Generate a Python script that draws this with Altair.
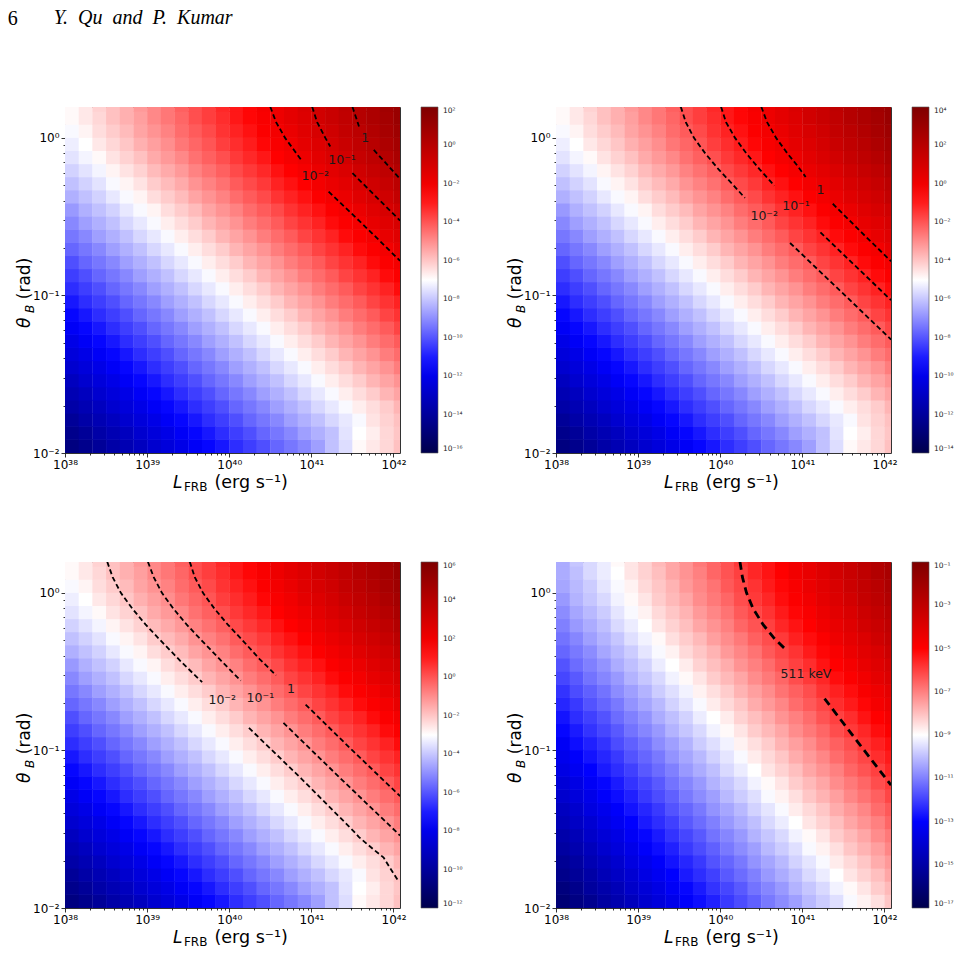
import altair as alt
import pandas as pd

# ---------------- header text ----------------
PAGE_NUMBER = "6"
RUNNING_HEAD = "Y.\u2002Qu\u2002and\u2002P.\u2002Kumar"

# ---------------- heat-map cells (log10 edges) ----------------
LOG_L_EDGES = [38.0, 38.1667, 38.3333, 38.5, 38.6667, 38.8333, 39.0, 39.1667, 39.3333,
               39.5, 39.6667, 39.8333, 40.0, 40.1667, 40.3333, 40.5, 40.6667, 40.8333,
               41.0, 41.1667, 41.3333, 41.5, 41.6667, 41.8333, 42.0, 42.1667]
LOG_THETA_EDGES = [-2.0, -1.9167, -1.8333, -1.75, -1.6667, -1.5833, -1.5, -1.4167, -1.3333,
                   -1.25, -1.1667, -1.0833, -1.0, -0.9167, -0.8333, -0.75, -0.6667, -0.5833,
                   -0.5, -0.4167, -0.3333, -0.25, -0.1667, -0.0833, 0.0, 0.0833, 0.1667, 0.25]

# log10 of the plotted quantity, panels 1-3 (panel 1 units), rows from theta=0.01 upward
F_GRID = [
    [-14.7,-14.4,-14.1,-13.7,-13.4,-13.1,-12.7,-12.4,-12.1,-11.7,-11.4,-11.1,-10.7,-10.4,-10.1,-9.7,-9.4,-9.1,-8.7,-8.1,-7.6,-6.9,-6.6,-6.3,-5.9],
    [-14.4,-14.1,-13.7,-13.4,-13.1,-12.7,-12.4,-12.1,-11.7,-11.4,-11.1,-10.7,-10.4,-10.1,-9.7,-9.4,-9.1,-8.7,-8.4,-8.1,-7.5,-7.0,-6.7,-6.3,-6.0],
    [-14.1,-13.7,-13.4,-13.1,-12.7,-12.4,-12.1,-11.7,-11.4,-11.1,-10.7,-10.4,-10.1,-9.7,-9.4,-9.1,-8.7,-8.4,-8.1,-7.7,-7.4,-7.1,-6.5,-6.2,-5.9],
    [-13.7,-13.4,-13.1,-12.7,-12.4,-12.1,-11.7,-11.4,-11.1,-10.7,-10.4,-10.1,-9.7,-9.4,-9.1,-8.7,-8.4,-8.1,-7.7,-7.4,-7.1,-6.7,-6.4,-6.1,-5.7],
    [-13.4,-13.1,-12.7,-12.4,-12.1,-11.7,-11.4,-11.1,-10.7,-10.4,-10.1,-9.7,-9.4,-9.1,-8.7,-8.4,-8.1,-7.7,-7.4,-7.1,-6.7,-6.4,-6.1,-5.7,-5.4],
    [-13.1,-12.7,-12.4,-12.1,-11.7,-11.4,-11.1,-10.7,-10.4,-10.1,-9.7,-9.4,-9.1,-8.7,-8.4,-8.1,-7.7,-7.4,-7.1,-6.7,-6.4,-6.1,-5.7,-5.4,-5.1],
    [-12.7,-12.4,-12.1,-11.7,-11.4,-11.1,-10.7,-10.4,-10.1,-9.7,-9.4,-9.1,-8.7,-8.4,-8.1,-7.7,-7.4,-7.1,-6.7,-6.4,-6.1,-5.7,-5.4,-5.1,-4.7],
    [-12.4,-12.1,-11.7,-11.4,-11.1,-10.7,-10.4,-10.1,-9.7,-9.4,-9.1,-8.7,-8.4,-8.1,-7.7,-7.4,-7.1,-6.7,-6.4,-6.1,-5.7,-5.4,-5.1,-4.7,-4.4],
    [-12.1,-11.7,-11.4,-11.1,-10.7,-10.4,-10.1,-9.7,-9.4,-9.1,-8.7,-8.4,-8.1,-7.7,-7.4,-7.1,-6.7,-6.4,-6.1,-5.7,-5.4,-5.1,-4.7,-4.4,-4.1],
    [-11.7,-11.4,-11.1,-10.7,-10.4,-10.1,-9.7,-9.4,-9.1,-8.7,-8.4,-8.1,-7.7,-7.4,-7.1,-6.7,-6.4,-6.1,-5.7,-5.4,-5.1,-4.7,-4.4,-4.1,-3.7],
    [-11.4,-11.1,-10.7,-10.4,-10.1,-9.7,-9.4,-9.1,-8.7,-8.4,-8.1,-7.7,-7.4,-7.1,-6.7,-6.4,-6.1,-5.7,-5.4,-5.1,-4.7,-4.4,-4.1,-3.7,-3.4],
    [-11.1,-10.7,-10.4,-10.1,-9.7,-9.4,-9.1,-8.7,-8.4,-8.1,-7.7,-7.4,-7.1,-6.7,-6.4,-6.1,-5.7,-5.4,-5.1,-4.7,-4.4,-4.1,-3.7,-3.4,-3.1],
    [-10.7,-10.4,-10.1,-9.7,-9.4,-9.1,-8.7,-8.4,-8.1,-7.7,-7.4,-7.1,-6.7,-6.4,-6.1,-5.7,-5.4,-5.1,-4.7,-4.4,-4.1,-3.7,-3.4,-3.1,-2.7],
    [-10.4,-10.1,-9.7,-9.4,-9.1,-8.7,-8.4,-8.1,-7.7,-7.4,-7.1,-6.7,-6.4,-6.1,-5.7,-5.4,-5.1,-4.7,-4.4,-4.1,-3.7,-3.4,-3.1,-2.7,-2.4],
    [-10.1,-9.7,-9.4,-9.1,-8.7,-8.4,-8.1,-7.7,-7.4,-7.1,-6.7,-6.4,-6.1,-5.7,-5.4,-5.1,-4.7,-4.4,-4.1,-3.7,-3.4,-3.1,-2.7,-2.4,-2.1],
    [-9.7,-9.4,-9.1,-8.7,-8.4,-8.1,-7.7,-7.4,-7.1,-6.7,-6.4,-6.1,-5.7,-5.4,-5.1,-4.7,-4.4,-4.1,-3.7,-3.4,-3.1,-2.7,-2.4,-2.1,-1.7],
    [-9.4,-9.1,-8.7,-8.4,-8.1,-7.7,-7.4,-7.1,-6.7,-6.4,-6.1,-5.7,-5.4,-5.1,-4.7,-4.4,-4.1,-3.7,-3.4,-3.1,-2.7,-2.4,-2.1,-1.7,-1.4],
    [-9.1,-8.7,-8.4,-8.1,-7.7,-7.4,-7.1,-6.7,-6.4,-6.1,-5.7,-5.4,-5.1,-4.7,-4.4,-4.1,-3.7,-3.4,-3.1,-2.7,-2.4,-2.1,-1.7,-1.4,-1.1],
    [-8.8,-8.4,-8.1,-7.8,-7.4,-7.1,-6.8,-6.4,-6.1,-5.8,-5.4,-5.1,-4.8,-4.4,-4.1,-3.8,-3.4,-3.1,-2.8,-2.4,-2.1,-1.8,-1.4,-1.1,-0.8],
    [-8.4,-8.1,-7.8,-7.4,-7.1,-6.8,-6.4,-6.1,-5.8,-5.4,-5.1,-4.8,-4.4,-4.1,-3.8,-3.4,-3.1,-2.8,-2.4,-2.1,-1.8,-1.4,-1.1,-0.8,-0.4],
    [-8.1,-7.8,-7.5,-7.1,-6.8,-6.5,-6.1,-5.8,-5.5,-5.1,-4.8,-4.5,-4.1,-3.8,-3.5,-3.1,-2.8,-2.5,-2.1,-1.8,-1.5,-1.1,-0.8,-0.5,-0.1],
    [-7.8,-7.5,-7.2,-6.8,-6.5,-6.2,-5.8,-5.5,-5.2,-4.8,-4.5,-4.2,-3.8,-3.5,-3.2,-2.8,-2.5,-2.2,-1.8,-1.5,-1.2,-0.8,-0.5,-0.2,0.2],
    [-7.5,-7.2,-6.9,-6.5,-6.2,-5.9,-5.5,-5.2,-4.9,-4.5,-4.2,-3.9,-3.5,-3.2,-2.9,-2.5,-2.2,-1.9,-1.5,-1.2,-0.9,-0.5,-0.2,0.1,0.5],
    [-7.3,-7.0,-6.6,-6.3,-6.0,-5.6,-5.3,-5.0,-4.6,-4.3,-4.0,-3.6,-3.3,-3.0,-2.6,-2.3,-2.0,-1.6,-1.3,-1.0,-0.6,-0.3,0.0,0.4,0.7],
    [-7.1,-6.8,-6.4,-6.1,-5.8,-5.4,-5.1,-4.8,-4.4,-4.1,-3.8,-3.4,-3.1,-2.8,-2.4,-2.1,-1.8,-1.4,-1.1,-0.8,-0.4,-0.1,0.2,0.6,0.9],
    [-6.9,-6.6,-6.3,-5.9,-5.6,-5.3,-4.9,-4.6,-4.3,-3.9,-3.6,-3.3,-2.9,-2.6,-2.3,-1.9,-1.6,-1.3,-0.9,-0.6,-0.3,0.1,0.4,0.7,1.1],
    [-6.9,-6.6,-6.2,-5.9,-5.6,-5.2,-4.9,-4.6,-4.2,-3.9,-3.6,-3.2,-2.9,-2.6,-2.2,-1.9,-1.6,-1.2,-0.9,-0.6,-0.2,0.1,0.4,0.8,1.1],
]

# log10 of the plotted quantity, panel 4
G_GRID = [
    [-16.1,-15.8,-15.5,-15.1,-14.8,-14.5,-14.1,-13.8,-13.5,-13.1,-12.8,-12.5,-12.1,-11.8,-11.5,-11.1,-10.8,-10.5,-10.1,-9.8,-9.5,-9.1,-8.8,-8.5,-8.1],
    [-15.9,-15.6,-15.2,-14.9,-14.6,-14.2,-13.9,-13.6,-13.2,-12.9,-12.6,-12.2,-11.9,-11.6,-11.2,-10.9,-10.6,-10.2,-9.9,-9.6,-9.2,-8.9,-8.6,-8.2,-7.9],
    [-15.6,-15.3,-15.0,-14.6,-14.3,-14.0,-13.6,-13.3,-13.0,-12.6,-12.3,-12.0,-11.6,-11.3,-11.0,-10.6,-10.3,-10.0,-9.6,-9.3,-9.0,-8.6,-8.3,-8.0,-7.6],
    [-15.4,-15.1,-14.7,-14.4,-14.1,-13.7,-13.4,-13.1,-12.7,-12.4,-12.1,-11.7,-11.4,-11.1,-10.7,-10.4,-10.1,-9.7,-9.4,-9.1,-8.7,-8.4,-8.1,-7.7,-7.4],
    [-15.1,-14.8,-14.5,-14.1,-13.8,-13.5,-13.1,-12.8,-12.5,-12.1,-11.8,-11.5,-11.1,-10.8,-10.5,-10.1,-9.8,-9.5,-9.1,-8.8,-8.5,-8.1,-7.8,-7.5,-7.1],
    [-14.9,-14.6,-14.2,-13.9,-13.6,-13.2,-12.9,-12.6,-12.2,-11.9,-11.6,-11.2,-10.9,-10.6,-10.2,-9.9,-9.6,-9.2,-8.9,-8.6,-8.2,-7.9,-7.6,-7.2,-6.9],
    [-14.6,-14.3,-14.0,-13.6,-13.3,-13.0,-12.6,-12.3,-12.0,-11.6,-11.3,-11.0,-10.6,-10.3,-10.0,-9.6,-9.3,-9.0,-8.6,-8.3,-8.0,-7.6,-7.3,-7.0,-6.6],
    [-14.4,-14.1,-13.7,-13.4,-13.1,-12.7,-12.4,-12.1,-11.7,-11.4,-11.1,-10.7,-10.4,-10.1,-9.7,-9.4,-9.1,-8.7,-8.4,-8.1,-7.7,-7.4,-7.1,-6.7,-6.4],
    [-14.1,-13.8,-13.5,-13.1,-12.8,-12.5,-12.1,-11.8,-11.5,-11.1,-10.8,-10.5,-10.1,-9.8,-9.5,-9.1,-8.8,-8.5,-8.1,-7.8,-7.5,-7.1,-6.8,-6.5,-6.1],
    [-13.9,-13.6,-13.2,-12.9,-12.6,-12.2,-11.9,-11.6,-11.2,-10.9,-10.6,-10.2,-9.9,-9.6,-9.2,-8.9,-8.6,-8.2,-7.9,-7.6,-7.2,-6.9,-6.6,-6.2,-5.9],
    [-13.6,-13.3,-13.0,-12.6,-12.3,-12.0,-11.6,-11.3,-11.0,-10.6,-10.3,-10.0,-9.6,-9.3,-9.0,-8.6,-8.3,-8.0,-7.6,-7.3,-7.0,-6.6,-6.3,-6.0,-5.6],
    [-13.4,-13.1,-12.7,-12.4,-12.1,-11.7,-11.4,-11.1,-10.7,-10.4,-10.1,-9.7,-9.4,-9.1,-8.7,-8.4,-8.1,-7.7,-7.4,-7.1,-6.7,-6.4,-6.1,-5.7,-5.4],
    [-13.2,-12.8,-12.5,-12.2,-11.8,-11.5,-11.2,-10.8,-10.5,-10.2,-9.8,-9.5,-9.2,-8.8,-8.5,-8.2,-7.8,-7.5,-7.2,-6.8,-6.5,-6.2,-5.8,-5.5,-5.2],
    [-12.9,-12.6,-12.2,-11.9,-11.6,-11.2,-10.9,-10.6,-10.2,-9.9,-9.6,-9.2,-8.9,-8.6,-8.2,-7.9,-7.6,-7.2,-6.9,-6.6,-6.2,-5.9,-5.6,-5.2,-4.9],
    [-12.7,-12.3,-12.0,-11.7,-11.3,-11.0,-10.7,-10.3,-10.0,-9.7,-9.3,-9.0,-8.7,-8.3,-8.0,-7.7,-7.3,-7.0,-6.7,-6.3,-6.0,-5.7,-5.3,-5.0,-4.7],
    [-12.4,-12.1,-11.7,-11.4,-11.1,-10.7,-10.4,-10.1,-9.7,-9.4,-9.1,-8.7,-8.4,-8.1,-7.7,-7.4,-7.1,-6.7,-6.4,-6.1,-5.7,-5.4,-5.1,-4.7,-4.4],
    [-12.2,-11.8,-11.5,-11.2,-10.8,-10.5,-10.2,-9.8,-9.5,-9.2,-8.8,-8.5,-8.2,-7.8,-7.5,-7.2,-6.8,-6.5,-6.2,-5.8,-5.5,-5.2,-4.8,-4.5,-4.2],
    [-11.9,-11.6,-11.2,-10.9,-10.6,-10.2,-9.9,-9.6,-9.2,-8.9,-8.6,-8.2,-7.9,-7.6,-7.2,-6.9,-6.6,-6.2,-5.9,-5.6,-5.2,-4.9,-4.6,-4.2,-3.9],
    [-11.7,-11.3,-11.0,-10.7,-10.3,-10.0,-9.7,-9.3,-9.0,-8.7,-8.3,-8.0,-7.7,-7.3,-7.0,-6.7,-6.3,-6.0,-5.7,-5.3,-5.0,-4.7,-4.3,-4.0,-3.7],
    [-11.4,-11.1,-10.8,-10.4,-10.1,-9.8,-9.4,-9.1,-8.8,-8.4,-8.1,-7.8,-7.4,-7.1,-6.8,-6.4,-6.1,-5.8,-5.4,-5.1,-4.8,-4.4,-4.1,-3.8,-3.4],
    [-11.2,-10.9,-10.5,-10.2,-9.9,-9.5,-9.2,-8.9,-8.5,-8.2,-7.9,-7.5,-7.2,-6.9,-6.5,-6.2,-5.9,-5.5,-5.2,-4.9,-4.5,-4.2,-3.9,-3.5,-3.2],
    [-11.0,-10.6,-10.3,-10.0,-9.6,-9.3,-9.0,-8.6,-8.3,-8.0,-7.6,-7.3,-7.0,-6.6,-6.3,-6.0,-5.6,-5.3,-5.0,-4.6,-4.3,-4.0,-3.6,-3.3,-3.0],
    [-10.8,-10.4,-10.1,-9.8,-9.4,-9.1,-8.8,-8.4,-8.1,-7.8,-7.4,-7.1,-6.8,-6.4,-6.1,-5.8,-5.4,-5.1,-4.8,-4.4,-4.1,-3.8,-3.4,-3.1,-2.8],
    [-10.6,-10.2,-9.9,-9.6,-9.2,-8.9,-8.6,-8.2,-7.9,-7.6,-7.2,-6.9,-6.6,-6.2,-5.9,-5.6,-5.2,-4.9,-4.6,-4.2,-3.9,-3.6,-3.2,-2.9,-2.6],
    [-10.4,-10.1,-9.8,-9.4,-9.1,-8.8,-8.4,-8.1,-7.8,-7.4,-7.1,-6.8,-6.4,-6.1,-5.8,-5.4,-5.1,-4.8,-4.4,-4.1,-3.8,-3.4,-3.1,-2.8,-2.4],
    [-10.3,-10.0,-9.6,-9.3,-9.0,-8.6,-8.3,-8.0,-7.6,-7.3,-7.0,-6.6,-6.3,-6.0,-5.6,-5.3,-5.0,-4.6,-4.3,-4.0,-3.6,-3.3,-3.0,-2.6,-2.3],
    [-10.3,-9.9,-9.6,-9.3,-8.9,-8.6,-8.3,-7.9,-7.6,-7.3,-6.9,-6.6,-6.3,-5.9,-5.6,-5.3,-4.9,-4.6,-4.3,-3.9,-3.6,-3.3,-2.9,-2.6,-2.3],
]

PANEL_GRID = ["F", "F", "F", "G"]
PANEL_OFFSET = [0, 2, 4, 0]          # decades added to F for panels 2 and 3
CBAR_RANGE = [(-16, 2), (-14, 4), (-12, 6), (-17, -1)]
CBAR_TICKS = [
    [2, 0, -2, -4, -6, -8, -10, -12, -14, -16],
    [4, 2, 0, -2, -4, -6, -8, -10, -12, -14],
    [6, 4, 2, 0, -2, -4, -6, -8, -10, -12],
    [-1, -3, -5, -7, -9, -11, -13, -15, -17],
]

# ---------------- dashed contour segments: (log10 L, log10 theta) ----------------
CONTOURS = [
    [
        [(40.50, 0.197), (40.57, 0.10), (40.68, 0.0), (40.82, -0.10), (40.89, -0.15)],
        [(41.21, -0.341), (41.63, -0.55), (42.08, -0.78)],
        [(41.01, 0.197), (41.07, 0.10), (41.17, 0.0), (41.23, -0.055)],
        [(41.50, -0.224), (42.08, -0.525)],
        [(41.50, 0.197), (41.55, 0.12), (41.58, 0.072)],
        [(41.76, -0.076), (42.08, -0.26)],
    ],
    [
        [(40.50, 0.197), (40.57, 0.10), (40.68, 0.0), (40.82, -0.10), (40.93, -0.17), (41.04, -0.248)],
        [(41.37, -0.418), (41.72, -0.60), (42.08, -0.783)],
        [(40.01, 0.197), (40.07, 0.10), (40.18, 0.0), (40.32, -0.10), (40.48, -0.20), (40.66, -0.303)],
        [(41.22, -0.60), (42.08, -1.03)],
        [(39.52, 0.197), (39.58, 0.10), (39.68, 0.0), (39.82, -0.10), (39.98, -0.20), (40.16, -0.30), (40.30, -0.381)],
        [(40.85, -0.667), (41.46, -0.97), (42.08, -1.28)],
    ],
    [
        [(39.52, 0.197), (39.58, 0.10), (39.68, 0.0), (39.82, -0.10), (39.98, -0.20), (40.16, -0.30), (40.37, -0.42), (40.57, -0.523)],
        [(40.93, -0.709), (41.50, -1.0), (42.08, -1.29)],
        [(39.01, 0.197), (39.08, 0.10), (39.18, 0.0), (39.32, -0.10), (39.48, -0.20), (39.66, -0.30), (39.90, -0.43), (40.14, -0.557)],
        [(40.66, -0.825), (41.36, -1.18), (42.08, -1.54)],
        [(38.515, 0.197), (38.58, 0.10), (38.68, 0.0), (38.82, -0.10), (38.98, -0.20), (39.16, -0.30), (39.42, -0.44), (39.67, -0.567)],
        [(40.24, -0.857), (40.88, -1.18), (41.51, -1.51), (41.58, -1.55), (41.76, -1.63), (41.88, -1.68), (41.95, -1.74), (42.06, -1.83)],
    ],
    [
        [(40.24, 0.197), (40.27, 0.10), (40.32, 0.0), (40.40, -0.10), (40.52, -0.20), (40.66, -0.29), (40.82, -0.371)],
        [(41.27, -0.671), (41.68, -0.95), (42.08, -1.22)],
    ],
]
CONTOUR_LABELS = [
    [("1", 41.656, 0.0), ("10⁻¹", 41.373, -0.138), ("10⁻²", 41.048, -0.239)],
    [("1", 41.219, -0.328), ("10⁻¹", 40.922, -0.434), ("10⁻²", 40.535, -0.498)],
    [("1", 40.753, -0.608), ("10⁻¹", 40.379, -0.667), ("10⁻²", 39.914, -0.682)],
    [("511 keV", 41.044, -0.512)],
]

X_MIN, X_MAX = 1e38, 1.2e42
Y_MIN, Y_MAX = 0.01, 1.5708

# ---------------- styling ----------------
FONT = "DejaVu Sans"
SERIF = "Liberation Serif"
SEISMIC = ["#00004c", "#0000ff", "#ffffff", "#ff0000", "#7f0000"]
PW, PH = 335, 346
SEAM = 0.004   # tiny overlap (in decades) so neighbouring cells leave no hairline gaps

SUP = {"0": "⁰", "1": "¹", "2": "²", "3": "³", "4": "⁴", "5": "⁵",
       "6": "⁶", "7": "⁷", "8": "⁸", "9": "⁹", "-": "⁻"}


def sup(n):
    return "".join(SUP[c] for c in str(n))


LOG10 = "(log(datum.value) / LN10)"
IS_MAJOR = f"abs({LOG10} - round({LOG10})) < 0.001"


def log_label_expr(exps):
    s = "''"
    for n in exps:
        s = f"round({LOG10}) == {n} ? '10{sup(n)}' : ({s})"
    return f"{IS_MAJOR} ? ({s}) : ''"


def cbar_label_expr(exps):
    s = "''"
    for n in exps:
        s = f"datum.value == {n} ? '10{sup(n)}' : ({s})"
    return s


X_TICKS = [m * 10.0 ** e for e in range(38, 43) for m in range(1, 10) if m * 10.0 ** e <= X_MAX]
Y_TICKS = [m * 10.0 ** e for e in (-2, -1, 0) for m in range(1, 10) if m * 10.0 ** e <= Y_MAX]
TICK_SIZE = {"condition": {"test": IS_MAJOR, "value": 4}, "value": 2}


def main_axis(orient):
    common = dict(orient=orient, labelFlush=False, labelOverlap=False, tickSize=TICK_SIZE,
                  tickWidth=0.8, tickColor="black", domain=False, grid=False,
                  labelFont=FONT, labelFontSize=12, labelColor="black", labelPadding=2,
                  titleFont=FONT, titleFontSize=17, titleFontStyle="italic",
                  titleFontWeight="normal", titleColor="black", titleAlign="left",
                  titleBaseline="alphabetic")
    if orient == "bottom":
        return alt.Axis(values=X_TICKS, labelExpr=log_label_expr([38, 39, 40, 41, 42]),
                        title="L", titleX=107.4, titleY=34.4, **common)
    return alt.Axis(values=Y_TICKS, labelExpr=log_label_expr([-2, -1, 0]),
                    title="θ", titleAngle=270, titleX=-36, titleY=220.5, **common)


def title_axis(orient, text, size, style, tx, ty):
    kw = dict(orient=orient, labels=False, ticks=False, domain=False, grid=False,
              title=text, titleFont=FONT, titleFontSize=size, titleFontStyle=style,
              titleFontWeight="normal", titleColor="black", titleX=tx, titleY=ty,
              titleAlign="left", titleBaseline="alphabetic")
    if orient == "left":
        kw["titleAngle"] = 270
    return alt.Axis(**kw)


def heat_table(grid, offset):
    rows = []
    assert len(grid) == len(LOG_THETA_EDGES) - 1
    for j, row in enumerate(grid):
        assert len(row) == len(LOG_L_EDGES) - 1, (j, len(row))
        for k, v in enumerate(row):
            rows.append({"L": 10 ** LOG_L_EDGES[k], "L2": 10 ** (LOG_L_EDGES[k + 1] + SEAM),
                         "th": 10 ** LOG_THETA_EDGES[j], "th2": 10 ** (LOG_THETA_EDGES[j + 1] + SEAM),
                         "v": round(v + offset, 2)})
    return pd.DataFrame(rows)


def panel(i):
    lo, hi = CBAR_RANGE[i]
    q = (hi - lo) / 4
    cdom = [lo, lo + q, lo + 2 * q, lo + 3 * q, hi]
    grid = F_GRID if PANEL_GRID[i] == "F" else G_GRID
    heat_df = heat_table(grid, PANEL_OFFSET[i])
    xs = alt.Scale(type="log", domain=[X_MIN, X_MAX], nice=False)
    ys = alt.Scale(type="log", domain=[Y_MIN, Y_MAX], nice=False)
    cs = alt.Scale(domain=cdom, range=SEISMIC, interpolate="rgb", clamp=True)

    legend = alt.Legend(type="gradient", title=None, orient="right", offset=20.5,
                        direction="vertical", gradientLength=PH, gradientThickness=17,
                        values=CBAR_TICKS[i], labelExpr=cbar_label_expr(CBAR_TICKS[i]),
                        labelFont=FONT, labelFontSize=7.5, labelColor="#222222", labelOffset=5,
                        labelBaseline="middle", labelOverlap=False,
                        gradientStrokeColor="#555555", gradientStrokeWidth=0.6, padding=0)

    heat = alt.Chart(heat_df).mark_rect(clip=True, strokeWidth=0).encode(
        x=alt.X("L:Q", scale=xs, axis=main_axis("bottom")),
        x2="L2:Q",
        y=alt.Y("th:Q", scale=ys, axis=main_axis("left")),
        y2="th2:Q",
        color=alt.Color("v:Q", scale=cs, legend=legend),
    )

    seg_rows = []
    for s, seg in enumerate(CONTOURS[i]):
        for o, (lx, ly) in enumerate(seg):
            seg_rows.append({"L": 10 ** lx, "th": 10 ** ly, "seg": s, "o": o})
    wide = i == 3
    lines = alt.Chart(pd.DataFrame(seg_rows)).mark_line(
        color="black", strokeWidth=2.8 if wide else 1.8,
        strokeDash=[8, 5] if wide else [5, 3], clip=True
    ).encode(
        x=alt.X("L:Q", scale=xs, axis=title_axis("bottom", "FRB", 12, "normal", 118.4, 37.8)),
        y=alt.Y("th:Q", scale=ys, axis=title_axis("left", "B", 12, "italic", -31.5, 205.5)),
        detail="seg:N",
        order="o:Q",
    )

    lab_df = pd.DataFrame([{"t": t, "L": 10 ** lx, "th": 10 ** ly} for t, lx, ly in CONTOUR_LABELS[i]])
    labels = alt.Chart(lab_df).mark_text(font=FONT, fontSize=12.5, color="#1a1a1a",
                                          align="center", baseline="middle").encode(
        x=alt.X("L:Q", scale=xs, axis=title_axis("bottom", "(erg s⁻¹)", 17.5, "normal", 149, 34.4)),
        y=alt.Y("th:Q", scale=ys, axis=title_axis("left", "(rad)", 17, "normal", -36, 191.7)),
        text="t:N",
    )

    layered = alt.layer(heat, lines, labels).resolve_axis(
        x="independent", y="independent").properties(width=PW, height=PH)
    if i == 0:
        layered = layered.properties(title=alt.TitleParams(
            text=PAGE_NUMBER, anchor="start", frame="group", orient="top",
            dx=-57.3, offset=78.3, font=SERIF, fontSize=20, fontWeight="normal",
            color="black"))
    return layered


chart = alt.concat(
    panel(0), panel(1), panel(2), panel(3),
    columns=2,
    spacing={"row": 109, "column": 156},
    bounds="flush",
    title=alt.TitleParams(
        text=RUNNING_HEAD, anchor="start", frame="group", orient="top", dx=-11.3,
        offset=-20, font=SERIF, fontSize=20, fontStyle="italic", fontWeight="normal",
        color="black",
    ),
).resolve_scale(
    color="independent", x="independent", y="independent"
).properties(
    padding={"left": 7, "top": 8, "right": 0, "bottom": 0},
).configure_view(stroke="#333333", strokeWidth=1)

chart.save("out.html", embed_options={"renderer": "svg", "actions": False})
